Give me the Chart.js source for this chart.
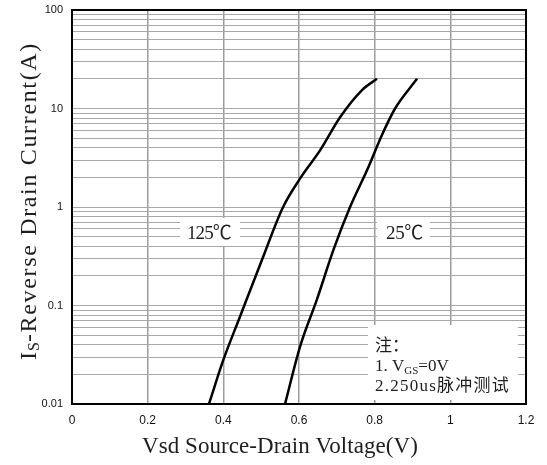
<!DOCTYPE html>
<html>
<head>
<meta charset="utf-8">
<script src="https://cdn.jsdelivr.net/npm/chart.js@4.4.1/dist/chart.umd.min.js"></script>
<style>
  html, body { margin: 0; padding: 0; background: #fff; }
  #wrap { width: 547px; height: 465px; }
</style>
</head>
<body>
<div id="wrap"><canvas id="c" width="547" height="465"></canvas></div>
<script>
// values
let vTicks = [0, 0.2, 0.4, 0.6, 0.8, 1, 1.2];
let iDecades = [0.01, 0.1, 1, 10, 100];

let v125 = [0.362, 0.400, 0.444, 0.502, 0.558, 0.603, 0.656, 0.709, 0.766, 0.806];
let i125 = [0.01, 0.028, 0.077, 0.29, 1.0, 1.95, 3.78, 8.2, 15.3, 20];

let v25 = [0.563, 0.603, 0.647, 0.691, 0.735, 0.780, 0.819, 0.854, 0.912];
let i25 = [0.01, 0.0385, 0.114, 0.367, 1.0, 2.37, 5.36, 10, 20];

let serif = '"Liberation Serif", "Noto Sans CJK SC", serif';
let ink = "#1e1e1e";

function pts(xs, ys) {
  return xs.map((x, k) => ({ x: x, y: ys[k] }));
}

// gridlines at 1..9 of every decade
function logGrid() {
  let out = [];
  iDecades.forEach((d, k) => {
    if (k === iDecades.length - 1) { out.push(d); return; }
    for (let m = 1; m < 10; m++) out.push(+(d * m).toPrecision(3));
  });
  return out;
}

// text stretched to a given width
function spaced(ctx, text, x, y, width) {
  ctx.letterSpacing = "0px";
  let w = ctx.measureText(text).width;
  let gap = (width - w) / text.length;
  ctx.letterSpacing = gap + "px";
  ctx.fillText(text, x, y);
  ctx.letterSpacing = "0px";
}

let decor = {
  id: "decor",
  afterDraw(chart) {
    let ctx = chart.ctx;
    let a = chart.chartArea;
    ctx.save();

    // white patches behind the curve labels
    ctx.fillStyle = "#fff";
    ctx.fillRect(180, 218, 60, 28);
    ctx.fillRect(377, 218, 53, 28);
    // note box
    ctx.fillRect(368, 325, 150, 75);

    ctx.fillStyle = ink;
    ctx.textAlign = "left";
    ctx.textBaseline = "alphabetic";
    ctx.font = "19px " + serif;
    spaced(ctx, "125℃", 187, 239, 44);
    spaced(ctx, "25℃", 386, 239, 37);

    // note text
    ctx.font = "17px " + serif;
    ctx.fillText("注：", 375, 351);
    let x = 375;
    ctx.fillText("1. V", x, 371);
    x += ctx.measureText("1. V").width;
    ctx.font = "11px " + serif;
    ctx.fillText("GS", x, 374);
    x += ctx.measureText("GS").width;
    ctx.font = "17px " + serif;
    ctx.fillText("=0V", x, 371);
    spaced(ctx, "2.250us脉冲测试", 375, 391, 135);

    // frame
    ctx.strokeStyle = "#000";
    ctx.lineWidth = 2;
    ctx.strokeRect(a.left, a.top, a.right - a.left, a.bottom - a.top);

    // x title
    ctx.font = "23px " + serif;
    spaced(ctx, "Vsd Source-Drain Voltage(V)", 142, 453, 276);

    // y title, rotated, with subscript S
    ctx.translate(36, 360);
    ctx.rotate(-Math.PI / 2);
    ctx.font = "24px " + serif;
    ctx.fillText("I", 0, 0);
    let p = ctx.measureText("I").width + 1;
    ctx.font = "16px " + serif;
    ctx.fillText("S", p, 3);
    p += ctx.measureText("S").width;
    ctx.font = "24px " + serif;
    spaced(ctx, "-Reverse Drain Current(A)", p, 0, 318 - p);

    ctx.restore();
  }
};

let chart = new Chart(document.getElementById("c"), {
  type: "scatter",
  data: {
    datasets: [
      { label: "125℃", data: pts(v125, i125) },
      { label: "25℃", data: pts(v25, i25) }
    ].map(d => Object.assign(d, {
      showLine: true,
      borderColor: "#000",
      borderWidth: 2.5,
      pointRadius: 0,
      cubicInterpolationMode: "monotone"
    }))
  },
  options: {
    responsive: false,
    animation: false,
    layout: { padding: { top: 10, right: 21, left: 0, bottom: 0 } },
    plugins: { legend: { display: false }, tooltip: { enabled: false } },
    scales: {
      x: {
        type: "linear",
        min: 0,
        max: 1.2,
        afterBuildTicks: s => { s.ticks = vTicks.map(v => ({ value: v })); },
        afterFit: s => { s.height = 61; },
        border: { display: false },
        grid: { color: "#9c9c9c", lineWidth: 1.5, drawTicks: false },
        ticks: {
          padding: 9,
          color: "#111",
          font: { family: '"Liberation Sans", Arial, sans-serif', size: 12 },
          callback: v => String(+v.toFixed(1))
        }
      },
      y: {
        type: "logarithmic",
        min: 0.01,
        max: 100,
        afterBuildTicks: s => { s.ticks = logGrid().map(v => ({ value: v })); },
        afterFit: s => { s.width = 72; s.paddingTop = 0; s.paddingBottom = 0; },
        border: { display: false },
        grid: { color: "#a8a8a8", lineWidth: 1, drawTicks: false },
        ticks: {
          autoSkip: false,
          padding: 9,
          color: "#111",
          font: { family: '"Liberation Sans", Arial, sans-serif', size: 11 },
          callback: v => iDecades.includes(v) ? String(v) : ""
        }
      }
    }
  },
  plugins: [decor]
});
</script>
</body>
</html>
